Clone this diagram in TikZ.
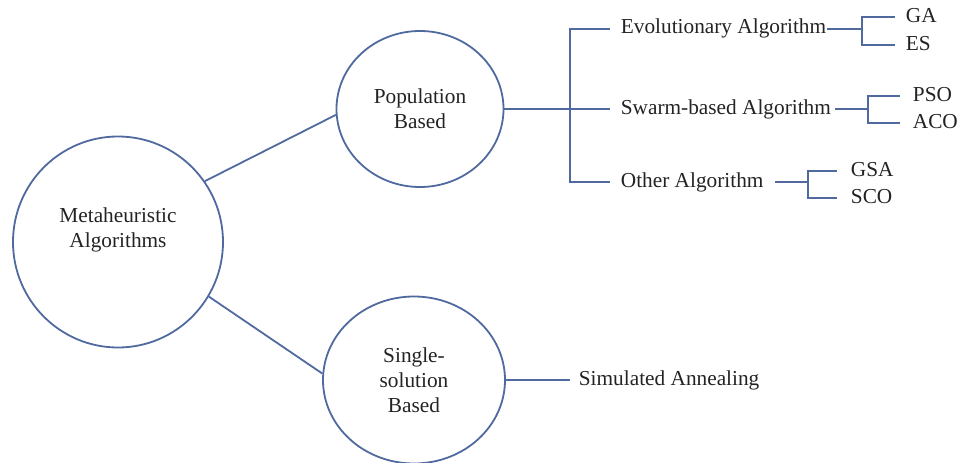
\documentclass[tikz,border=0pt]{standalone}
\usepackage{fontspec}
\setmainfont{Liberation Serif}
\usetikzlibrary{shapes.geometric}

\definecolor{linkblue}{RGB}{80,106,160}
\definecolor{txtgray}{RGB}{35,35,35}

\begin{document}
\begin{tikzpicture}
  [x=1pt,y=-1pt,line width=1.8pt,
   every node/.style={font=\fontsize{21.3}{25}\selectfont,text=txtgray},
   bubble/.style={draw=linkblue,ellipse,align=center,inner sep=0pt},
   item/.style={anchor=west,inner xsep=0pt,text height=14.5pt,text depth=4.5pt},
   link/.style={draw=linkblue,line width=1.8pt}]
  \useasboundingbox (0,0) rectangle (959,463);
  \node[bubble,minimum width=210pt,minimum height=211pt] (meta) at (118,242) {Metaheuristic\\Algorithms\\[3pt]\mbox{}};
  \node[bubble,minimum width=167pt,minimum height=156pt] (pop) at (420,109) {Population\\Based};
  \node[bubble,minimum width=182pt,minimum height=167pt] (single) at (414,380) {Single-\\solution\\Based};
  \node[item] (evo) at (620,29)  {Evolutionary Algorithm};
  \node[item] (swarm) at (620,109) {Swarm-based Algorithm};
  \node[item] (other) at (620,182) {Other Algorithm};
  \node[item] (ga) at (905,17)  {GA};
  \node[item] (es) at (905,45)  {ES};
  \node[item] (pso) at (912,96)  {PSO};
  \node[item] (aco) at (912,123) {ACO};
  \node[item] (gsa) at (850,171) {GSA};
  \node[item] (sco) at (850,198) {SCO};
  \node[item] (sa) at (578,380) {Simulated Annealing};
  \coordinate (popspine) at (570,109);
  \coordinate (evospine) at (862,29);
  \coordinate (swarmspine) at (868,109);
  \coordinate (otherspine) at (808,182);
  \draw[link] (meta.35) -- (pop.184);
  \draw[link] (meta.-31) -- (single.176);
  \draw[link] (pop) -- (popspine);
  \draw[link,shorten >=8pt] (single) -- (sa);
  \foreach \n in {evo,swarm,other}
    \draw[link,shorten >=10pt] (popspine) |- (\n.west);
  \draw[link] (evo) -- (evospine);
  \draw[link,shorten <=3pt] (swarm) -- (swarmspine);
  \draw[link,shorten <=11pt] (other) -- (otherspine);
  \foreach \n in {ga,es}
    \draw[link,shorten >=10pt] (evospine) |- (\n.west);
  \foreach \n in {pso,aco}
    \draw[link,shorten >=12pt] (swarmspine) |- (\n.west);
  \foreach \n in {gsa,sco}
    \draw[link,shorten >=13pt] (otherspine) |- (\n.west);
\end{tikzpicture}
\end{document}
